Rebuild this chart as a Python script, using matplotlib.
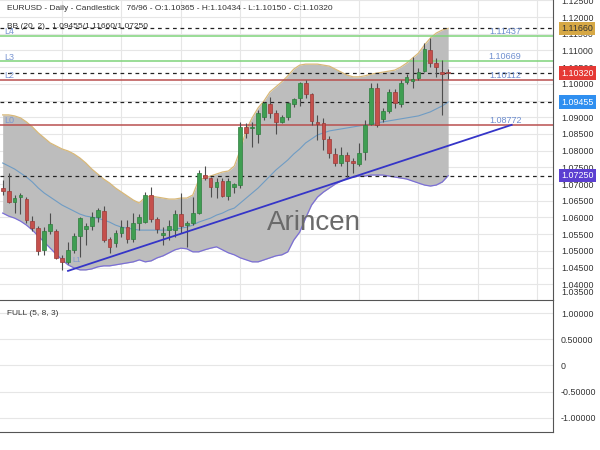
import matplotlib.pyplot as plt
import matplotlib.transforms as mtransforms
import numpy as np
from matplotlib.ticker import FuncFormatter

plt.rcParams['font.family'] = ['Liberation Sans', 'DejaVu Sans']

# daily candles, oldest first (76 of 96 slots used)
opens = [1.0688, 1.0680, 1.0646, 1.0661, 1.0655, 1.0589, 1.0568, 1.0503, 1.0559, 1.0559,
         1.0479, 1.0467, 1.0503, 1.0545, 1.0565, 1.0574, 1.0601, 1.0619, 1.0535, 1.0523,
         1.0553, 1.0571, 1.0535, 1.0583, 1.0586, 1.0667, 1.0595, 1.0547, 1.0562, 1.0562,
         1.0610, 1.0577, 1.0583, 1.0613, 1.0727, 1.0718, 1.0691, 1.0709, 1.0664, 1.0691,
         1.0697, 1.0871, 1.0868, 1.0850, 1.0901, 1.0940, 1.0913, 1.0886, 1.0901, 1.0940,
         1.0958, 1.1002, 1.0970, 1.0886, 1.0883, 1.0835, 1.0790, 1.0763, 1.0787, 1.0769,
         1.0760, 1.0796, 1.0880, 1.0988, 1.0895, 1.0919, 1.0976, 1.0940, 1.1005, 1.1008,
         1.1017, 1.1038, 1.1101, 1.1062, 1.1035, 1.10365]
highs = [1.0712, 1.0734, 1.0667, 1.0673, 1.0661, 1.0604, 1.0574, 1.0571, 1.0613, 1.0565,
         1.0488, 1.0526, 1.0553, 1.0601, 1.0583, 1.0616, 1.0628, 1.0634, 1.0541, 1.0562,
         1.0592, 1.0592, 1.0613, 1.0610, 1.0676, 1.0691, 1.0601, 1.0571, 1.0592, 1.0622,
         1.0673, 1.0589, 1.0661, 1.0742, 1.0754, 1.0721, 1.0718, 1.0718, 1.0718, 1.0703,
         1.0886, 1.0883, 1.0886, 1.0922, 1.0946, 1.0961, 1.0922, 1.0907, 1.0946, 1.0958,
         1.1006, 1.1011, 1.0973, 1.0907, 1.0898, 1.0844, 1.0808, 1.0811, 1.0796, 1.0778,
         1.0823, 1.0892, 1.1003, 1.1003, 1.0928, 1.0985, 1.0985, 1.1011, 1.1029, 1.1080,
         1.1047, 1.1122, 1.1137, 1.1077, 1.1071, 1.10434]
lows = [1.0667, 1.0642, 1.0614, 1.0610, 1.0583, 1.0559, 1.0488, 1.0488, 1.0550, 1.0476,
        1.0443, 1.0461, 1.0494, 1.0482, 1.0518, 1.0562, 1.0586, 1.0526, 1.0494, 1.0511,
        1.0541, 1.0523, 1.0526, 1.0562, 1.0583, 1.0586, 1.0553, 1.0518, 1.0532, 1.0541,
        1.0553, 1.0511, 1.0577, 1.0610, 1.0712, 1.0661, 1.0658, 1.0661, 1.0652, 1.0673,
        1.0688, 1.0838, 1.0811, 1.0823, 1.0892, 1.0898, 1.0850, 1.0883, 1.0892, 1.0931,
        1.0934, 1.0958, 1.0877, 1.0832, 1.0802, 1.0778, 1.0754, 1.0754, 1.0721, 1.0733,
        1.0754, 1.0772, 1.0877, 1.0871, 1.0886, 1.0913, 1.0928, 1.0931, 1.0999, 1.0988,
        1.1011, 1.1035, 1.1050, 1.1020, 1.0907, 1.10150]
closes = [1.0679, 1.0645, 1.0658, 1.0667, 1.0592, 1.0568, 1.0500, 1.0559, 1.0580, 1.0479,
          1.0467, 1.0503, 1.0545, 1.0598, 1.0574, 1.0601, 1.0622, 1.0532, 1.0511, 1.0553,
          1.0571, 1.0535, 1.0583, 1.0601, 1.0667, 1.0595, 1.0565, 1.0553, 1.0574, 1.0610,
          1.0574, 1.0583, 1.0613, 1.0733, 1.0718, 1.0691, 1.0706, 1.0664, 1.0709, 1.0700,
          1.0871, 1.0853, 1.0871, 1.0913, 1.0943, 1.0913, 1.0886, 1.0901, 1.0943, 1.0955,
          1.1002, 1.0970, 1.0889, 1.0880, 1.0835, 1.0793, 1.0763, 1.0787, 1.0769, 1.0763,
          1.0793, 1.0877, 1.0988, 1.0877, 1.0919, 1.0976, 1.0943, 1.1002, 1.1020, 1.1014,
          1.1035, 1.1104, 1.1062, 1.1050, 1.1029, 1.10320]

# Bollinger bands (20, 2)
bb_upper = [1.0907, 1.0907, 1.0904, 1.0898, 1.0886, 1.0871, 1.0853, 1.0838, 1.0823, 1.0814,
            1.0805, 1.0799, 1.0790, 1.0778, 1.0763, 1.0745, 1.0730, 1.0715, 1.0703, 1.0688,
            1.0676, 1.0664, 1.0652, 1.0643, 1.0661, 1.0664, 1.0661, 1.0658, 1.0655, 1.0655,
            1.0658, 1.0658, 1.0667, 1.0712, 1.0718, 1.0724, 1.0730, 1.0736, 1.0739, 1.0754,
            1.0802, 1.0862, 1.0898, 1.0928, 1.0949, 1.0976, 1.0991, 1.1006, 1.1024, 1.1044,
            1.1056, 1.1059, 1.1059, 1.1059, 1.1056, 1.1053, 1.1044, 1.1035, 1.1026, 1.1021,
            1.1021, 1.1024, 1.1029, 1.1032, 1.1035, 1.1038, 1.1041, 1.1050, 1.1062, 1.1077,
            1.1092, 1.1116, 1.1137, 1.1152, 1.1161, 1.11660]
bb_mid = [1.0763, 1.0754, 1.0745, 1.0733, 1.0721, 1.0706, 1.0688, 1.0673, 1.0661, 1.0649,
          1.0637, 1.0628, 1.0619, 1.0610, 1.0604, 1.0601, 1.0598, 1.0592, 1.0586, 1.0577,
          1.0571, 1.0568, 1.0565, 1.0562, 1.0562, 1.0562, 1.0562, 1.0562, 1.0562, 1.0565,
          1.0568, 1.0571, 1.0577, 1.0586, 1.0592, 1.0598, 1.0607, 1.0613, 1.0622, 1.0628,
          1.0643, 1.0658, 1.0673, 1.0688, 1.0706, 1.0724, 1.0742, 1.0757, 1.0772, 1.0790,
          1.0805, 1.0823, 1.0835, 1.0847, 1.0853, 1.0859, 1.0862, 1.0865, 1.0868, 1.0871,
          1.0874, 1.0877, 1.0880, 1.0883, 1.0886, 1.0889, 1.0892, 1.0895, 1.0898, 1.0901,
          1.0904, 1.0910, 1.0916, 1.0925, 1.0934, 1.09455]
bb_lower = [1.0613, 1.0604, 1.0598, 1.0589, 1.0577, 1.0562, 1.0544, 1.0526, 1.0508, 1.0490,
            1.0473, 1.0458, 1.0449, 1.0443, 1.0443, 1.0446, 1.0452, 1.0455, 1.0455, 1.0458,
            1.0461, 1.0464, 1.0467, 1.0473, 1.0467, 1.0470, 1.0479, 1.0485, 1.0494, 1.0503,
            1.0508, 1.0506, 1.0497, 1.0497, 1.0503, 1.0508, 1.0512, 1.0503, 1.0494, 1.0488,
            1.0479, 1.0473, 1.0467, 1.0467, 1.0473, 1.0479, 1.0485, 1.0488, 1.0497, 1.0532,
            1.0556, 1.0598, 1.0637, 1.0661, 1.0676, 1.0688, 1.0700, 1.0709, 1.0718, 1.0721,
            1.0724, 1.0724, 1.0727, 1.0727, 1.0727, 1.0724, 1.0721, 1.0718, 1.0715, 1.0709,
            1.0703, 1.0697, 1.0694, 1.0697, 1.0706, 1.0725]

# support / resistance levels
level_names = ['L4', 'L3', 'L2', 'L0']
level_values = [1.11437, 1.10669, 1.10112, 1.08772]
level_colors = ['#7fd37a', '#7fd37a', '#b9504f', '#b9504f']

# dashed markers: BB upper, last close, BB mid, BB lower
marker_values = [1.11660, 1.10320, 1.09455, 1.07250]
marker_box = ['#d6a845', '#e53935', '#2f8ff0', '#5b3fd1']
marker_text = ['#333333', 'white', 'white', 'white']

# trend line L1
trend_x = [11.0, 85.7]
trend_y = [1.0440, 1.08772]

price_ticks = np.arange(1.040, 1.1251, 0.005)
osc_ticks = [-1.0, -0.5, 0.0, 0.5, 1.0]

fig = plt.figure(figsize=(6, 4.5), dpi=100)
ax = fig.add_axes([0, 150 / 450, 553 / 600, 300 / 450])
ax2 = fig.add_axes([0, 18 / 450, 553 / 600, 132 / 450])

x = np.arange(len(closes))

# band
ax.fill_between(x, bb_lower, bb_upper, color='#bdbdbd', zorder=1, lw=0)
ax.plot(x, bb_upper, color='#d8b878', lw=0.9, zorder=2)
ax.plot(x, bb_lower, color='#7b6fd6', lw=0.9, zorder=2)
ax.plot(x, bb_mid, color='#6f9cc4', lw=0.8, zorder=2)

# candles
for i in x:
    o, h, l, c = opens[i], highs[i], lows[i], closes[i]
    up = c >= o
    ax.vlines(i, l, h, color='#4d4d4d', lw=0.8, zorder=3)
    body = max(abs(c - o), 0.00008)
    ax.bar(i, body, bottom=min(o, c), width=0.64,
           color='#3f9e52' if up else '#c5504c',
           edgecolor='#2f7d3e' if up else '#9c3b38', lw=0.5, zorder=4)

ytrans = mtransforms.blended_transform_factory(ax.transAxes, ax.transData)

# levels
for name, val, col in zip(level_names, level_values, level_colors):
    ax.axhline(val, color=col, lw=1.1, zorder=2.5)
    ax.text(0.008, val + 0.0013, name, transform=ytrans,
            color='#7b96d2', fontsize=6.5, va='center', ha='left', zorder=6)
    ax.text(84.6, val + 0.0014, f'{val:.5f}', color='#6f8fd0', fontsize=6.5,
            ha='center', va='center', zorder=6)

for val in marker_values:
    ax.axhline(val, color='#222222', lw=0.9, ls=(0, (3, 3)), zorder=2.6)

ax.plot(trend_x, trend_y, color='#3535c8', lw=1.3, zorder=5)
ax.text(11.8, 1.0470, 'L1', color='#7b96d2', fontsize=5.5, va='center', zorder=6)

ax.text(52.4, 1.0582, 'Arincen', fontsize=20, color='#6a6a6a', ha='center', va='center', zorder=6)

ax.set_xlim(-0.45, 92.65)
ax.set_ylim(1.03528, 1.1251)
ax.set_xticks(np.arange(10, 91, 10))
ax.set_yticks(price_ticks)
ax.yaxis.tick_right()
ax.yaxis.set_major_formatter(FuncFormatter(lambda v, p: f'{v:.5f}'))
ax.tick_params(axis='y', length=0, pad=5.8, labelsize=6.4, labelcolor='#333333')
ax.tick_params(axis='x', length=0, labelbottom=False)
ax.grid(True, color='#e6e6e6', lw=0.8, zorder=0)
ax.set_axisbelow(True)
for s in ['top', 'left', 'bottom']:
    ax.spines[s].set_visible(False)
ax.spines['right'].set_color('#555555')

ax.text(1 + 8 / 553, 1.0374, '1.03500', transform=ytrans, fontsize=6.4, color='#333333', va='center')
for val, fc, tc in zip(marker_values, marker_box, marker_text):
    ax.text(1 + 8 / 553, val, f'{val:.5f}', transform=ytrans, fontsize=6.4, color=tc, va='center',
            bbox=dict(boxstyle='square,pad=0.25', fc=fc, ec='none'), zorder=7)

fig.text(7 / 600, 1 - 8 / 450,
         'EURUSD - Daily - Candlestick   76/96 - O:1.10365 - H:1.10434 - L:1.10150 - C:1.10320',
         fontsize=6.0, color='#333333', va='center')
fig.text(7 / 600, 1 - 26 / 450, 'BB (20, 2)   1.09455/1.11660/1.07250',
         fontsize=6.0, color='#333333', va='center')

# oscillator panel
ax2.set_xlim(-0.45, 92.65)
ax2.set_ylim(-1.27, 1.25)
ax2.set_yticks(osc_ticks)
ax2.yaxis.tick_right()
ax2.yaxis.set_major_formatter(FuncFormatter(lambda v, p: '0' if v == 0 else f'{v:.5f}'))
ax2.tick_params(axis='y', length=0, pad=5.8, labelsize=6.4, labelcolor='#333333')
ax2.tick_params(axis='x', length=0, labelbottom=False)
ax2.set_xticks([])
ax2.grid(True, axis='y', color='#e6e6e6', lw=0.8)
ax2.spines['left'].set_visible(False)
for s in ['top', 'right', 'bottom']:
    ax2.spines[s].set_color('#555555')
ax2.text(0.013, 1.0, 'FULL (5, 8, 3)', transform=mtransforms.blended_transform_factory(ax2.transAxes, ax2.transData),
         fontsize=6.0, color='#333333', va='center')

fig.savefig('out.png', dpi=100)
